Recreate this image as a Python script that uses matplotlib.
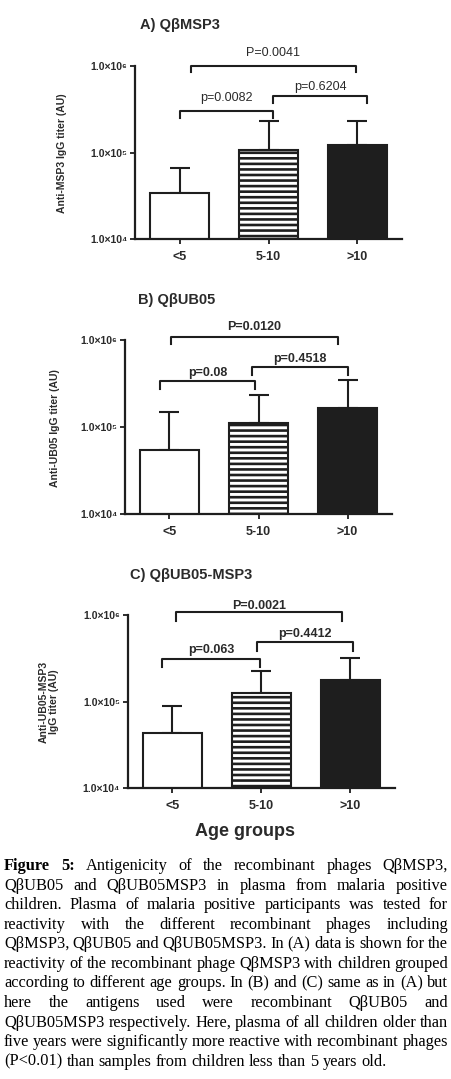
import numpy as np
import matplotlib
matplotlib.use('Agg')
import matplotlib.pyplot as plt
from matplotlib.font_manager import FontProperties

plt.rcParams['font.family'] = ['Liberation Sans', 'DejaVu Sans']

W, H = 452, 1079

groups = ['<5', '5-10', '>10']

msp3_mean = [3.4e4, 1.07e5, 1.22e5]
msp3_upper = [6.7e4, 2.33e5, 2.33e5]
ub05_mean = [5.5e4, 1.1e5, 1.67e5]
ub05_upper = [1.5e5, 2.33e5, 3.47e5]
ub05msp3_mean = [4.3e4, 1.25e5, 1.77e5]
ub05msp3_upper = [9.0e4, 2.27e5, 3.17e5]

msp3_p = ['p=0.0082', 'p=0.6204', 'P=0.0041']
ub05_p = ['p=0.08', 'p=0.4518', 'P=0.0120']
ub05msp3_p = ['p=0.063', 'p=0.4412', 'P=0.0021']

ytick_vals = [1e4, 1e5, 1e6]
ytick_labels = ['1.0×10⁴', '1.0×10⁵', '1.0×10⁶']

caption_lines = [
    "Figure 5: Antigenicity of the recombinant phages QβMSP3,",
    "QβUB05 and QβUB05MSP3 in plasma from malaria positive",
    "children. Plasma of malaria positive participants was tested for",
    "reactivity with the different recombinant phages including",
    "QβMSP3, QβUB05 and QβUB05MSP3. In (A) data is shown for the",
    "reactivity of the recombinant phage QβMSP3 with children grouped",
    "according to different age groups. In (B) and (C) same as in (A) but",
    "here the antigens used were recombinant QβUB05 and",
    "QβUB05MSP3 respectively. Here, plasma of all children older than",
    "five years were significantly more reactive with recombinant phages",
    "(P<0.01) than samples from children less than 5 years old.",
]

# layout of each panel (pixels of the final image)
panels = [
    dict(mean=msp3_mean, upper=msp3_upper, pvals=msp3_p,
         box=(135, 66, 402, 239.3), title='A) QβMSP3', title_xy=(140, 25),
         ylabel='Anti-MSP3 IgG titer (AU)', ylabel_xy=(62, 153), pweight='normal',
         brackets=[(0.0, 1.05, 5.48, 5.40, 5.626),
                   (1.05, 2.11, 5.653, 5.572, 5.76),
                   (0.125, 1.98, 6.0, 5.93, 6.145)]),
    dict(mean=ub05_mean, upper=ub05_upper, pvals=ub05_p,
         box=(125, 340, 392, 514), title='B) QβUB05', title_xy=(138, 300),
         ylabel='Anti-UB05 IgG titer (AU)', ylabel_xy=(55, 428), pweight='bold',
         brackets=[(-0.11, 0.96, 5.532, 5.437, 5.624),
                   (0.93, 2.01, 5.686, 5.598, 5.778),
                   (0.02, 1.89, 6.03, 5.954, 6.153)]),
    dict(mean=ub05msp3_mean, upper=ub05msp3_upper, pvals=ub05msp3_p,
         box=(127.7, 615, 395, 788.3), title='C) QβUB05-MSP3', title_xy=(130, 575),
         ylabel='Anti-UB05-MSP3\nIgG titer (AU)', ylabel_xy=(49, 702), pweight='bold',
         brackets=[(-0.11, 0.98, 5.495, 5.40, 5.595),
                   (0.95, 2.03, 5.687, 5.587, 5.78),
                   (0.04, 1.90, 6.03, 5.93, 6.10)]),
]

ink = '#1e1e1e'
txt = '#2a2a2a'
plt.rcParams['hatch.linewidth'] = 1.9
plt.rcParams['hatch.color'] = ink

fig = plt.figure(figsize=(W / 100, H / 100), dpi=100)

x = np.arange(len(groups))
for p in panels:
    l, t, r, b = p['box']
    ax = fig.add_axes([l / W, 1 - b / H, (r - l) / W, (b - t) / H])
    ax.set_yscale('log')
    mean = np.array(p['mean'])
    upper = np.array(p['upper'])
    ax.bar(x, mean, width=0.66, color=['white', 'white', ink], edgecolor=ink,
           linewidth=1.5, hatch=[None, '---', None], zorder=2)
    ax.errorbar(x, mean, yerr=[np.zeros(3), upper - mean], fmt='none', ecolor=ink,
                elinewidth=1.5, capsize=7, capthick=1.5, zorder=1)
    ax.set_ylim(1e4, 1e6)
    ax.set_xlim(-0.5, 2.5)
    ax.set_yticks(ytick_vals)
    ax.set_yticklabels(ytick_labels, fontsize=7.5, fontweight='bold', color=txt)
    ax.yaxis.set_minor_locator(matplotlib.ticker.NullLocator())
    ax.set_xticks(x)
    ax.set_xticklabels(groups, fontsize=9, fontweight='bold', color=txt)
    ax.tick_params(axis='both', length=3.5, width=1.3, color=ink, pad=2)
    ax.tick_params(axis='x', pad=5)
    for s in ['top', 'right']:
        ax.spines[s].set_visible(False)
    for s in ['left', 'bottom']:
        ax.spines[s].set_linewidth(1.6)
        ax.spines[s].set_color(ink)
    for (x0, x1, ytop, yleg, ytxt), lab in zip(p['brackets'], p['pvals']):
        ax.plot([x0, x0, x1, x1], [10 ** yleg, 10 ** ytop, 10 ** ytop, 10 ** yleg],
                color=ink, lw=1.5, clip_on=False)
        ax.text((x0 + x1) / 2, 10 ** ytxt, lab, ha='center', va='center',
                fontsize=9, fontweight=p['pweight'], color=txt, clip_on=False)
    fig.text(p['title_xy'][0] / W, 1 - p['title_xy'][1] / H, p['title'],
             ha='left', va='center', fontsize=10.5, fontweight='bold', color=txt)
    fig.text(p['ylabel_xy'][0] / W, 1 - p['ylabel_xy'][1] / H, p['ylabel'],
             ha='center', va='center', rotation=90, fontsize=7.5,
             fontweight='bold', color=txt, linespacing=1.1)

fig.text(245 / W, 1 - 831.7 / H, 'Age groups', ha='center', va='center',
         fontsize=13, fontweight='bold', color=txt)

# justified caption
renderer = fig.canvas.get_renderer()
serif = 'Liberation Serif'


def word_width(w, size, weight):
    prop = FontProperties(family=serif, size=size, weight=weight)
    return renderer.get_text_width_height_descent(w, prop, ismath=False)[0]


left_px, right_px = 4, 448
avail = right_px - left_px
size = 12.3
scale = 1.0
for i, line in enumerate(caption_lines[:-1]):
    words = line.split()
    weights = ['bold' if (i == 0 and k < 2) else 'normal' for k in range(len(words))]
    nat = sum(word_width(w, size, wt) for w, wt in zip(words, weights))
    nat += (len(words) - 1) * 0.2 * size * 100 / 72
    scale = min(scale, avail / nat)
size *= scale

base0, step = 870, 19.57
for i, line in enumerate(caption_lines):
    words = line.split()
    weights = ['bold' if (i == 0 and k < 2) else 'normal' for k in range(len(words))]
    widths = [word_width(w, size, wt) for w, wt in zip(words, weights)]
    if i < len(caption_lines) - 1:
        gap = (avail - sum(widths)) / (len(words) - 1)
    else:
        gap = word_width('a b', size, 'normal') - word_width('ab', size, 'normal')
    xpos = left_px
    ypx = base0 + i * step
    for w, wt, ww in zip(words, weights, widths):
        fig.text(xpos / W, 1 - ypx / H, w, ha='left', va='baseline',
                 fontsize=size, fontweight=wt, family=serif, color='black')
        xpos += ww + gap

fig.savefig('out.png', dpi=100)
